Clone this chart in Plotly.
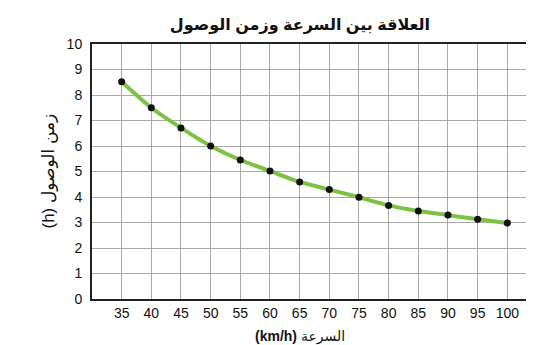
import plotly.graph_objects as go

speeds = [35, 40, 45, 50, 55, 60, 65, 70, 75, 80, 85, 90, 95, 100]
times = [8.52, 7.5, 6.71, 6.0, 5.45, 5.02, 4.59, 4.29, 3.99, 3.67, 3.45, 3.29, 3.13, 2.98]
y_ticks = list(range(0, 11))

title_text = "العلاقة بين السرعة وزمن الوصول"
x_title = "<b>(km/h)</b> السرعة"
y_title = "(h) زمن الوصول"

font_fam = "Liberation Sans, Arial, DejaVu Sans, sans-serif"

fig = go.Figure()
fig.add_trace(go.Scatter(
    x=speeds, y=times, mode="lines+markers",
    line=dict(color="#7dc242", width=4, shape="spline", smoothing=0.6),
    marker=dict(color="#111111", size=7),
    showlegend=False,
))

fig.update_layout(
    width=526, height=337,
    margin=dict(l=84, r=0, t=36, b=46),
    paper_bgcolor="white", plot_bgcolor="white",
    font=dict(family=font_fam, size=14, color="#111"),
    title=dict(text="<b>" + title_text + "</b>", x=0.555, xanchor="center",
               y=0.952, yanchor="middle", font=dict(size=16, color="#111")),
    annotations=[
        dict(text=x_title, xref="paper", yref="paper", x=0.47, y=-0.149,
             xanchor="center", yanchor="middle", showarrow=False,
             font=dict(size=14, color="#111")),
        dict(text=y_title, xref="paper", yref="paper", x=-0.0995, y=0.5,
             xanchor="center", yanchor="middle", showarrow=False, textangle=-90,
             font=dict(size=17, color="#111")),
    ],
)
fig.update_xaxes(
    range=[30, 104.5], tickvals=speeds, ticktext=[str(s) for s in speeds],
    showgrid=True, gridcolor="#a8a8a8", gridwidth=1,
    showline=True, linecolor="#222", linewidth=2, mirror=True,
    ticks="", zeroline=False, automargin=False, ticklabelstandoff=0,
)
fig.update_yaxes(
    range=[0, 10], tickvals=y_ticks,
    showgrid=True, gridcolor="#a8a8a8", gridwidth=1,
    showline=True, linecolor="#222", linewidth=2,
    ticks="", zeroline=False, ticklabelstandoff=5, automargin=False,
)

fig.write_html("out.html")
